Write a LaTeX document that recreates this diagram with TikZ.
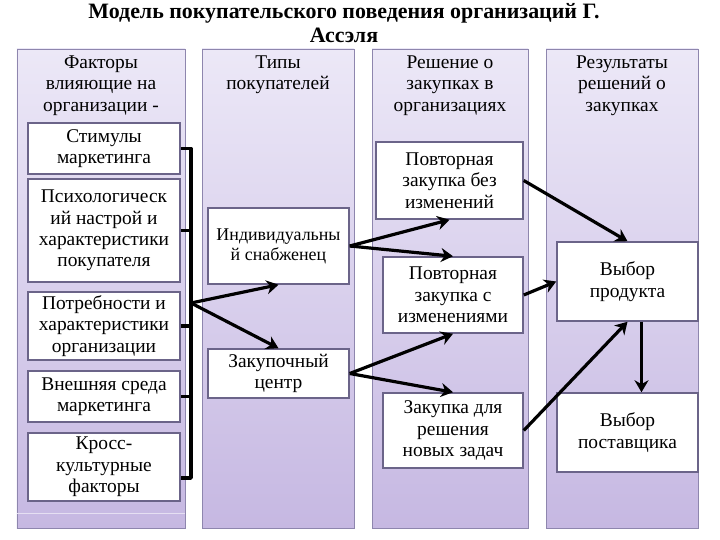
\documentclass[tikz,border=0pt]{standalone}
\usepackage{fontspec}
\setmainfont{Liberation Serif}
\usepackage{tikz}
\usetikzlibrary{arrows.meta,positioning,calc}
\definecolor{coltop}{HTML}{ECE8F7}
\definecolor{colbot}{HTML}{C6B8E2}
\definecolor{colline}{HTML}{8E86AE}
\definecolor{boxline}{HTML}{6B6489}
\newcommand{\boxfont}{\fontsize{19.5}{21.5}\selectfont}
\newcommand{\smlfont}{\fontsize{18}{20}\selectfont}
\newcommand{\ttlfont}{\fontsize{22}{24.5}\selectfont\bfseries}
\tikzset{
  column/.style={draw=colline,line width=0.8pt,top color=coltop,bottom color=colbot,inner sep=0pt,minimum height=479bp,minimum width=#1},
  head/.style={anchor=north,align=center,font=\boxfont,inner sep=0pt},
  box/.style 2 args={draw=boxline,line width=1.5pt,fill=white,align=center,inner sep=0pt,font=\boxfont,minimum width=#1,minimum height=#2},
  arr/.style={-{Stealth[length=12bp,width=14bp]},line width=3.2pt},
  bar/.style={line width=3.5pt,line join=round},
}
\begin{document}
\begin{tikzpicture}[x=1bp,y=-1bp]
    \useasboundingbox[fill=white] (0,0) rectangle (720,540);
    \node[font=\ttlfont,align=center,anchor=north,inner sep=0pt] (title) at (344,3) {Модель покупательского поведения организаций Г.\\Ассэля};
    % columns
    \node[column=168bp] (c1) at (101,288.5) {};
    \node[column=152bp] (c2) at (278,288.5) {};
    \node[column=156bp] (c3) at (450,288.5) {};
    \node[column=152bp] (c4) at (622,288.5) {};
    \draw[white!55!colbot,line width=1pt] (17,513) -- (185,513);
    \node[head] (h1) at ([yshift=-7bp]c1.north) {Факторы\\влияющие на\\организации -};
    \node[head] (h2) at ([yshift=-7bp]c2.north) {Типы\\покупателей};
    \node[head] (h3) at ([yshift=-7bp]c3.north) {Решение о\\закупках в\\организациях};
    \node[head] (h4) at ([yshift=-7bp]c4.north) {Результаты\\решений о\\закупках};
    % factors
    \node[box={152bp}{51bp}] (f1) at (104,148.5) {Стимулы\\маркетинга};
    \node[box={152bp}{103bp}] (f2) at (104,230.5) {Психологическ\\ий настрой и\\характеристики\\покупателя};
    \node[box={152bp}{68bp}] (f3) at (104,326) {Потребности и\\характеристики\\организации};
    \node[box={152bp}{51bp}] (f4) at (104,396.5) {Внешняя среда\\маркетинга};
    \node[box={152bp}{68bp}] (f5) at (104,467) {Кросс-\\культурные\\факторы};
    % buyers
    \node[box={141bp}{76bp},font=\smlfont] (t1) at (278.5,246) {Индивидуальны\\й снабженец};
    \node[box={141bp}{49bp}] (t2) at (278.5,373.5) {Закупочный\\центр};
    % decisions
    \node[box={147bp}{77bp}] (d1) at (449.5,180.5) {Повторная\\закупка без\\изменений};
    \node[box={140bp}{76bp}] (d2) at (453,295) {Повторная\\закупка с\\изменениями};
    \node[box={140bp}{75bp}] (d3) at (453,430.5) {Закупка для\\решения\\новых задач};
    % results
    \node[box={141bp}{79bp}] (r1) at (627.5,281.5) {Выбор\\продукта};
    \node[box={141bp}{79bp}] (r2) at (627.5,432.5) {Выбор\\поставщика};
    % bracket
    \coordinate (hub) at (191,303);
    \coordinate (f5s) at ([yshift=-11bp]f5.east);
    \draw[bar] (f1.east) -- (f1.east -| hub) -- (hub |- f5s) -- (f5s);
    \foreach \b in {f2,f3,f4} \draw[bar] (\b.east) -- (\b.east -| hub);
    % arrows
    \foreach \a/\b in {hub/t1.south,hub/t2.north,t1.east/d1.south,t1.east/d2.north,t2.east/d2.south,t2.east/d3.north,d1.east/r1.north,d2.east/r1.west,d3.east/r1.south}
      \draw[arr] (\a) -- (\b);
    \draw[arr] ([xshift=14bp]r1.south) -- ([xshift=14bp]r2.north);
\end{tikzpicture}
\end{document}
